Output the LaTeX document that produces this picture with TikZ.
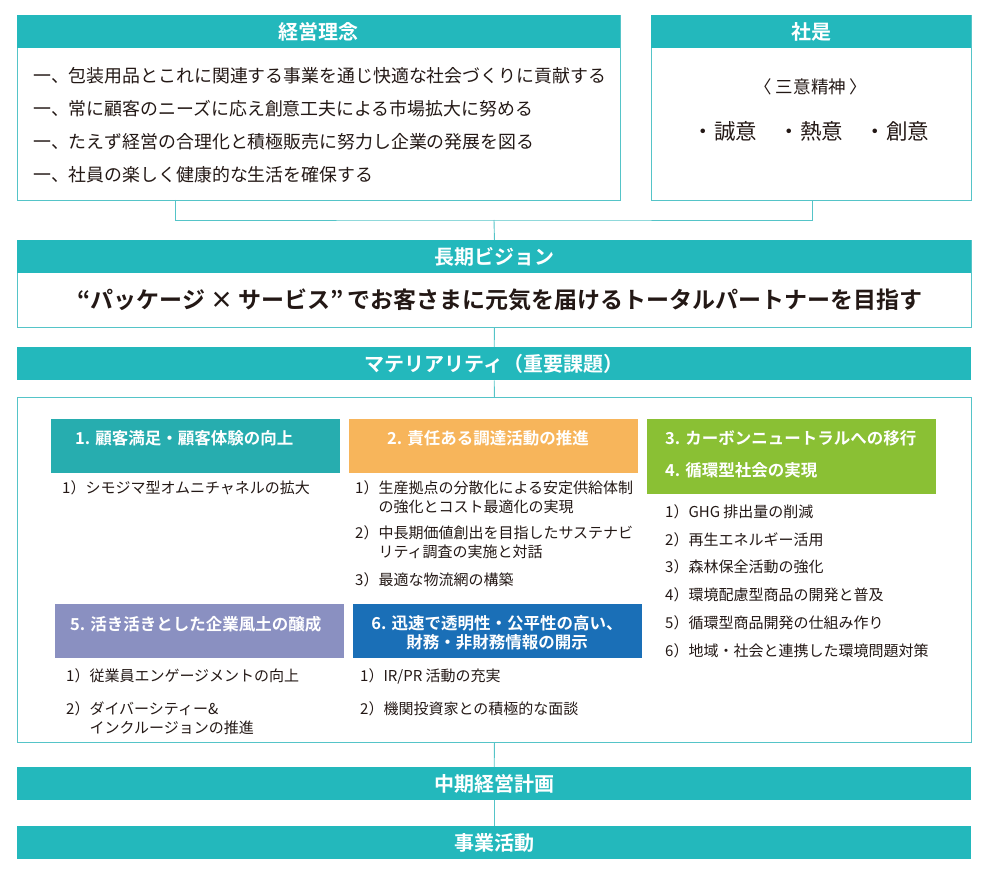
\documentclass[tikz,border=0pt]{standalone}
\usepackage{fontspec}
\setmainfont{Noto Sans CJK JP}[BoldFont={Noto Sans CJK JP Bold}]
\usetikzlibrary{positioning}
\definecolor{headTeal}{HTML}{23B8BC}
\definecolor{lineTeal}{HTML}{55C4C8}
\definecolor{boxTeal}{HTML}{27ADAF}
\definecolor{boxOrange}{HTML}{F7B55B}
\definecolor{boxGreen}{HTML}{8AC034}
\definecolor{boxLavender}{HTML}{8A90C1}
\definecolor{boxBlue}{HTML}{1A6FB7}
\definecolor{inkDark}{HTML}{231815}

\begin{document}
\begin{tikzpicture}
[x=1pt,y=-1pt,
  frameBox/.style={draw=lineTeal,line width=0.9pt,anchor=north west,inner sep=0pt},%
  headBar/.style={fill=headTeal,anchor=north west,inner sep=0pt,minimum height=33pt,
    text=white,font=\fontsize{20}{23}\selectfont\bfseries},%
  tagBox/.style={anchor=north west,inner sep=0pt,minimum width=289pt},%
  tagText/.style={anchor=west,inner sep=0pt,text=white,align=left,
    font=\fontsize{16.5}{19}\selectfont\bfseries},%
  itemText/.style={anchor=west,inner sep=0pt,text=inkDark,align=left,
    font=\fontsize{15}{19}\selectfont},%
  bodyText/.style={anchor=west,inner sep=0pt,text=inkDark,
    font=\fontsize{17.9}{21}\selectfont},%
  link/.style={draw=lineTeal,line width=0.9pt}]
\useasboundingbox (0,0) rectangle (996,874);
%% frames and header bars
\node (phil) at (17,15) [frameBox,minimum width=603pt,minimum height=185pt] {};
\node (philHead) at (17,15) [headBar,minimum width=603pt] {経営理念};
\node (motto) at (651,15) [frameBox,minimum width=320pt,minimum height=185pt] {};
\node (mottoHead) at (651,15) [headBar,minimum width=320pt] {社是};
\node (vision) at (17,240) [frameBox,minimum width=954pt,minimum height=87pt] {};
\node (visionHead) at (17,240) [headBar,minimum width=954pt] {長期ビジョン};
\node (mat) at (17,347) [headBar,minimum width=954pt] {マテリアリティ（重要課題）};
\node (matBox) at (17,397) [frameBox,minimum width=954pt,minimum height=345pt] {};
\node (mid) at (17,767) [headBar,minimum width=954pt] {中期経営計画};
\node (biz) at (17,826) [headBar,minimum width=954pt] {事業活動};
%% management philosophy
\foreach \nodename/\y/\txt in {p1/76/{一、包装用品とこれに関連する事業を通じ快適な社会づくりに貢献する},
  p2/109/{一、常に顧客のニーズに応え創意工夫による市場拡大に努める},
  p3/142/{一、たえず経営の合理化と積極販売に努力し企業の発展を図る},
  p4/175/{一、社員の楽しく健康的な生活を確保する}}
{
  \node (\nodename) at (33,\y) [bodyText] {\txt};
}
%% motto
\node (spirit) at (811,87) [inner sep=0pt,text=inkDark,font=\fontsize{17.5}{20}\selectfont] {〈 三意精神 〉};
\node (three) at (811,131) [inner sep=0pt,text=inkDark,font=\fontsize{21.5}{24}\selectfont] {・誠意　・熱意　・創意};
%% vision
\node (slogan) at (500,300) [inner sep=0pt,text=inkDark,font=\fontsize{23}{26}\selectfont\bfseries]
  {“パッケージ × サービス”\,でお客さまに元気を届けるトータルパートナーを目指す};
%% materiality boxes
\node (m1) at (51,419) [tagBox,fill=boxTeal,minimum height=54pt] {};
\node (m2) at (349,419) [tagBox,fill=boxOrange,minimum height=54pt] {};
\node (m3) at (647,419) [tagBox,fill=boxGreen,minimum height=75pt] {};
\node (m5) at (55,604) [tagBox,fill=boxLavender,minimum height=54pt] {};
\node (m6) at (353,604) [tagBox,fill=boxBlue,minimum height=54pt] {};
\foreach \nodename/\x/\y/\txt in {t1/75/438/{1. 顧客満足・顧客体験の向上},
  t2/387/438/{2. 責任ある調達活動の推進},
  t3/665/438/{3. カーボンニュートラルへの移行},
  t4/665/470/{4. 循環型社会の実現},
  t5/70/624/{5. 活き活きとした企業風土の醸成}}
{
  \node (\nodename) at (\x,\y) [tagText] {\txt};
}
\node (t6) at (497,633) [tagText,anchor=center,align=center]
  {6. 迅速で透明性・公平性の高い、\\財務・非財務情報の開示};
%% items
\foreach \nodename/\x/\y/\txt in {a1/62/488/{1）シモジマ型オムニチャネルの拡大},
  b1/355/497/{1）生産拠点の分散化による安定供給体制\\\hphantom{1）}の強化とコスト最適化の実現},
  b2/355/542/{2）中長期価値創出を目指したサステナビ\\\hphantom{2）}リティ調査の実施と対話},
  b3/355/580/{3）最適な物流網の構築},
  c1/665/512/{1）GHG 排出量の削減},
  c2/665/540/{2）再生エネルギー活用},
  c3/665/567/{3）森林保全活動の強化},
  c4/665/595/{4）環境配慮型商品の開発と普及},
  c5/665/623/{5）循環型商品開発の仕組み作り},
  c6/665/651/{6）地域・社会と連携した環境問題対策},
  e1/66/676/{1）従業員エンゲージメントの向上},
  e2/66/718/{2）ダイバーシティー\&\\\hphantom{2）}インクルージョンの推進},
  f1/360/676/{1）IR/PR 活動の充実},
  f2/360/709/{2）機関投資家との積極的な面談}}
{
  \node (\nodename) at (\x,\y) [itemText] {\txt};
}
%% connectors
\coordinate (philFoot) at (175,200);
\coordinate (mottoFoot) at (812,200);
\coordinate (join) at (494,220);
\draw[link] (philFoot) |- (join) -| (mottoFoot);
\draw[link] (join) -- (vision.north);
\foreach \startnode/\endnode in {vision/mat, mat/matBox, matBox/mid, mid/biz}
{
  \draw[link] (\startnode.south) -- (\endnode.north);
}
\end{tikzpicture}
\end{document}
